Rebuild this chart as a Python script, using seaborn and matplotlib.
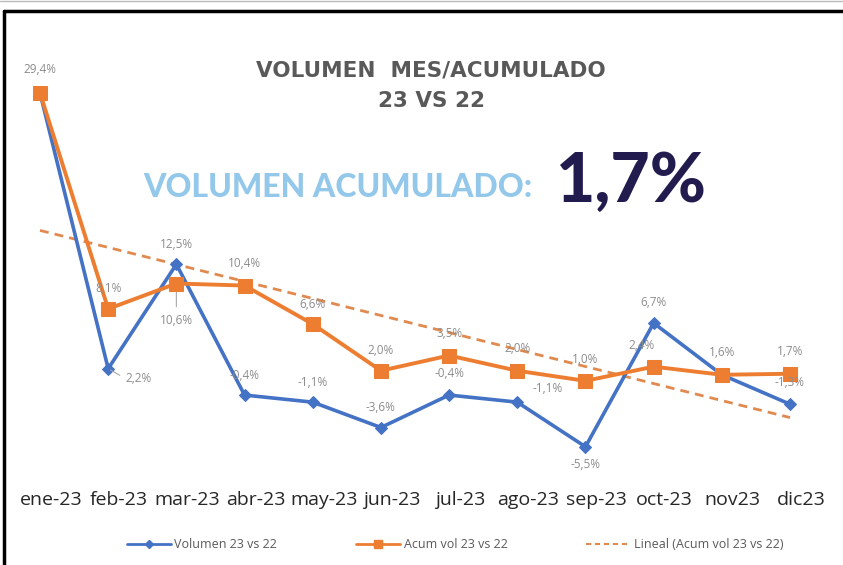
import numpy as np
import pandas as pd
import matplotlib
matplotlib.use("Agg")
import matplotlib.pyplot as plt
import matplotlib.transforms as mtransforms
from matplotlib.lines import Line2D
import seaborn as sns

# ---- data ----
months = ["ene-23", "feb-23", "mar-23", "abr-23", "may-23", "jun-23",
          "jul-23", "ago-23", "sep-23", "oct-23", "nov23", "dic23"]
volumen = [29.4, 2.2, 12.5, -0.4, -1.1, -3.6, -0.4, -1.1, -5.5, 6.7, 1.6, -1.3]
acumulado = [29.4, 8.1, 10.6, 10.4, 6.6, 2.0, 3.5, 2.0, 1.0, 2.4, 1.6, 1.7]
vol_labels = ["", "2,2%", "12,5%", "-0,4%", "-1,1%", "-3,6%", "-0,4%", "-1,1%",
              "-5,5%", "6,7%", "1,6%", "-1,3%"]
acum_labels = ["29,4%", "8,1%", "10,6%", "10,4%", "6,6%", "2,0%", "3,5%", "2,0%",
               "1,0%", "2,4%", "", "1,7%"]
series_names = ["Volumen 23 vs 22", "Acum vol 23 vs 22", "Lineal (Acum vol 23 vs 22)"]
title_lines = ["VOLUMEN  MES/ACUMULADO", "23 VS 22"]
headline = "VOLUMEN ACUMULADO:"
headline_value = "1,7%"

sns.set_theme(style="white")
plt.rcParams['font.family'] = ['Open Sans', 'DejaVu Sans']

W, H = 843, 565
fig = plt.figure(figsize=(W / 100, H / 100), dpi=100)

# axes placement in pixels
ax_left, ax_right = 6, 824
ax_top, ax_bottom = 30, 470
ax = fig.add_axes([ax_left / W, 1 - ax_bottom / H, (ax_right - ax_left) / W,
                   (ax_bottom - ax_top) / H])

x = np.arange(len(months))
df = pd.DataFrame({"x": x, "vol": volumen, "acum": acumulado})

BLUE = "#4472c4"
ORANGE = "#ed7d31"
GREY = "#8c8c8c"

# trend line (linear fit of cumulative series)
coef = np.polyfit(x, acumulado, 1)
trend = np.polyval(coef, x)
sns.lineplot(x=x, y=trend, ax=ax, color="#e08a50", linestyle=(0, (3.2, 2.2)),
             linewidth=2.0, zorder=2)

sns.lineplot(data=df, x="x", y="vol", ax=ax, color=BLUE, linewidth=2.6,
             marker="D", markersize=6, markeredgecolor=BLUE, zorder=3)
sns.lineplot(data=df, x="x", y="acum", ax=ax, color=ORANGE, linewidth=2.8,
             marker="s", markersize=10, markeredgecolor=ORANGE, zorder=4)

# y scale: zero at 391 px, 10.14 px per unit
ppu = 10.14
zero_px = 391
ax.set_ylim(-(ax_bottom - zero_px) / ppu, (zero_px - ax_top) / ppu)
ax.set_xlim(-(40 - ax_left) / 68.18, 11 + (ax_right - 790) / 68.18)

for s in ax.spines.values():
    s.set_visible(False)
ax.set_yticks([])
ax.set_xlabel("")
ax.set_ylabel("")
ax.set_xticks(x)
ax.set_xticklabels(months, fontsize=14, color="#262626")
ax.tick_params(axis="x", length=0, pad=15)
offset = mtransforms.ScaledTranslation(11 / 100, 0, fig.dpi_scale_trans)
for lab in ax.get_xticklabels():
    lab.set_transform(lab.get_transform() + offset)

# data labels (offsets in pixels)
vol_off = [(0, 0), (30, -10), (0, 20), (0, 20), (0, 20), (0, 20), (0, 22),
           (30, 14), (0, -18), (0, 21), (0, 22), (0, 22)]
acum_off = [(0, 23), (0, 20), (0, -37), (0, 22), (0, 20), (0, 20), (0, 22),
            (0, 22), (0, 21), (-12, 21), (0, 0), (0, 22)]
for i in x:
    if vol_labels[i]:
        ax.annotate(vol_labels[i], (i, volumen[i]), xytext=vol_off[i],
                    textcoords="offset pixels", ha="center", va="center",
                    fontsize=8.5, color=GREY, zorder=5)
    if acum_labels[i]:
        ax.annotate(acum_labels[i], (i, acumulado[i]), xytext=acum_off[i],
                    textcoords="offset pixels", ha="center", va="center",
                    fontsize=8.5, color=GREY, zorder=5)
# leader lines
ax.annotate("", (1, volumen[1]), xytext=(14, -8), textcoords="offset pixels",
            arrowprops=dict(arrowstyle="-", color="#a6a6a6", lw=0.8))
ax.annotate("", (2, acumulado[2]), xytext=(0, -26), textcoords="offset pixels",
            arrowprops=dict(arrowstyle="-", color="#a6a6a6", lw=0.8))

# titles
fig.text(431 / W, 1 - 71 / H, title_lines[0], ha="center", va="center",
         fontsize=15.5, fontweight="bold", color="#595959",
         family=["DejaVu Sans"])
fig.text(432 / W, 1 - 101 / H, title_lines[1], ha="center", va="center",
         fontsize=15.5, fontweight="bold", color="#595959",
         family=["DejaVu Sans"])
fig.text(533 / W, 1 - 188 / H, headline, ha="right", va="center",
         fontsize=23, fontweight="black", color="#93c8ea",
         family=["Lato", "DejaVu Sans"])
fig.text(556 / W, 1 - 182 / H, headline_value, ha="left", va="center",
         fontsize=49, fontweight="black", color="#221c4e",
         family=["Lato", "DejaVu Sans"])

# legend
handles = [Line2D([], [], color=BLUE, lw=2, marker="D", markersize=4),
           Line2D([], [], color=ORANGE, lw=2, marker="s", markersize=6),
           Line2D([], [], color="#e08a50", lw=1.5, linestyle=(0, (2.5, 1.8)))]
fig.legend(handles, series_names, loc="center", bbox_to_anchor=(455 / W, 1 - 545 / H),
           ncol=3, frameon=False, fontsize=9, labelcolor="#595959",
           columnspacing=6.3, handlelength=3.5, handletextpad=0.3)

# frame
fig.add_artist(Line2D([4 / W, 4 / W], [0, 1 - 11 / H], color="black", lw=2.5,
                      transform=fig.transFigure))
fig.add_artist(Line2D([4 / W, 1], [1 - 11 / H, 1 - 11 / H], color="black", lw=2.5,
                      transform=fig.transFigure))
fig.add_artist(Line2D([0, 1], [1 - 1 / H, 1 - 1 / H], color="#bbbbbb", lw=1,
                      transform=fig.transFigure))

fig.savefig("out.png", dpi=100)
